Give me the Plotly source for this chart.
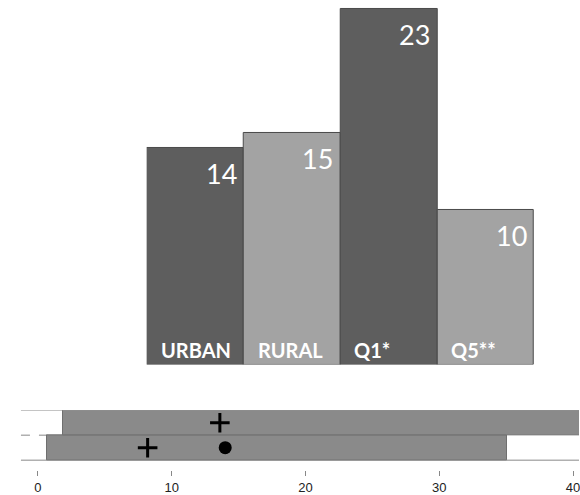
import plotly.graph_objects as go

# ---- data ----
categories = ["URBAN", "RURAL", "Q1*", "Q5**"]
values = [14, 15, 23, 10]
bar_colors = ["#5e5e5e", "#a3a3a3", "#5e5e5e", "#a3a3a3"]

rows = ["lower", "upper"]
row_start = [0.7, 1.9]
row_end = [35.1, 40.5]
plus_x = [8.2, 13.6]
dot_row = ["lower"]
dot_x = [14.0]
xticks = [0, 10, 20, 30, 40]

W, H = 580, 495
fig = go.Figure()

# ---- top bar chart ----
pos = list(range(len(categories)))
fig.add_trace(go.Bar(
    x=pos, y=values, marker=dict(color=bar_colors, line=dict(color="#4a4a4a", width=1)),
    width=1.0, xaxis="x", yaxis="y", showlegend=False, hoverinfo="skip"))

annotations = []
for i, (c, v) in enumerate(zip(categories, values)):
    annotations.append(dict(x=i + 0.5, y=v, xref="x", yref="y", text=str(v),
                            xanchor="right", yanchor="top", xshift=-5, yshift=-7,
                            showarrow=False, font=dict(family="Lato", size=27, color="white")))
    annotations.append(dict(x=i - 0.5, y=0, xref="x", yref="y", text="<b>%s</b>" % c,
                            xanchor="left", yanchor="bottom", xshift=12, yshift=1,
                            showarrow=False, font=dict(family="Lato", size=20, color="white")))

# ---- bottom range chart ----
row_idx = {r: i for i, r in enumerate(rows)}
fig.add_trace(go.Bar(
    y=[row_idx[r] for r in rows], x=[e - s for s, e in zip(row_start, row_end)], base=row_start,
    orientation="h", width=1.0,
    marker=dict(color="#8a8a8a", line=dict(color="#6f6f6f", width=1)),
    xaxis="x2", yaxis="y2", showlegend=False, hoverinfo="skip"))
fig.add_trace(go.Scatter(
    x=plus_x, y=[row_idx[r] for r in rows], mode="markers",
    marker=dict(symbol="cross-thin", size=14, line=dict(color="black", width=3)),
    xaxis="x2", yaxis="y2", showlegend=False, hoverinfo="skip"))
fig.add_trace(go.Scatter(
    x=dot_x, y=[row_idx[r] for r in dot_row], mode="markers",
    marker=dict(symbol="circle", size=13, color="black"),
    xaxis="x2", yaxis="y2", showlegend=False, hoverinfo="skip"))

shapes = []
line_left = -1.27
for k, b in enumerate([-0.5, 0.5, 1.5]):
    x1 = min(row_start) if k == 1 else 40.6
    shapes.append(dict(type="line", xref="x2", yref="y2", x0=line_left, x1=x1, y0=b, y1=b,
                       line=dict(color="#b0b0b0", width=1.5, dash="dash" if k == 1 else "solid"),
                       layer="below"))

fig.update_layout(
    width=W, height=H, margin=dict(l=0, r=0, t=0, b=0),
    paper_bgcolor="white", plot_bgcolor="white",
    bargap=0,
    xaxis=dict(domain=[147 / W, 535 / W], range=[-0.5, 3.5], visible=False, fixedrange=True),
    yaxis=dict(domain=[1 - 366 / H, 1 - 5 / H], range=[0, 361 / 15.5], visible=False),
    xaxis2=dict(domain=[0, 1], range=[-38 / 13.4, (580 - 38) / 13.4], anchor="y2",
                tickvals=xticks, ticktext=[str(t) for t in xticks], ticks="outside", ticklen=5,
                tickcolor="#888", tickwidth=1, showgrid=False, zeroline=False, showline=False,
                ticklabeloverflow="allow",
                tickfont=dict(family="Liberation Sans", size=13, color="#222")),
    yaxis2=dict(domain=[1 - 472 / H, 1 - 412 / H], range=[-0.9, 1.5], visible=False),
    annotations=annotations, shapes=shapes,
)

fig.write_html("out.html", config={"displayModeBar": False},
               post_script="document.body.style.margin='0';")
